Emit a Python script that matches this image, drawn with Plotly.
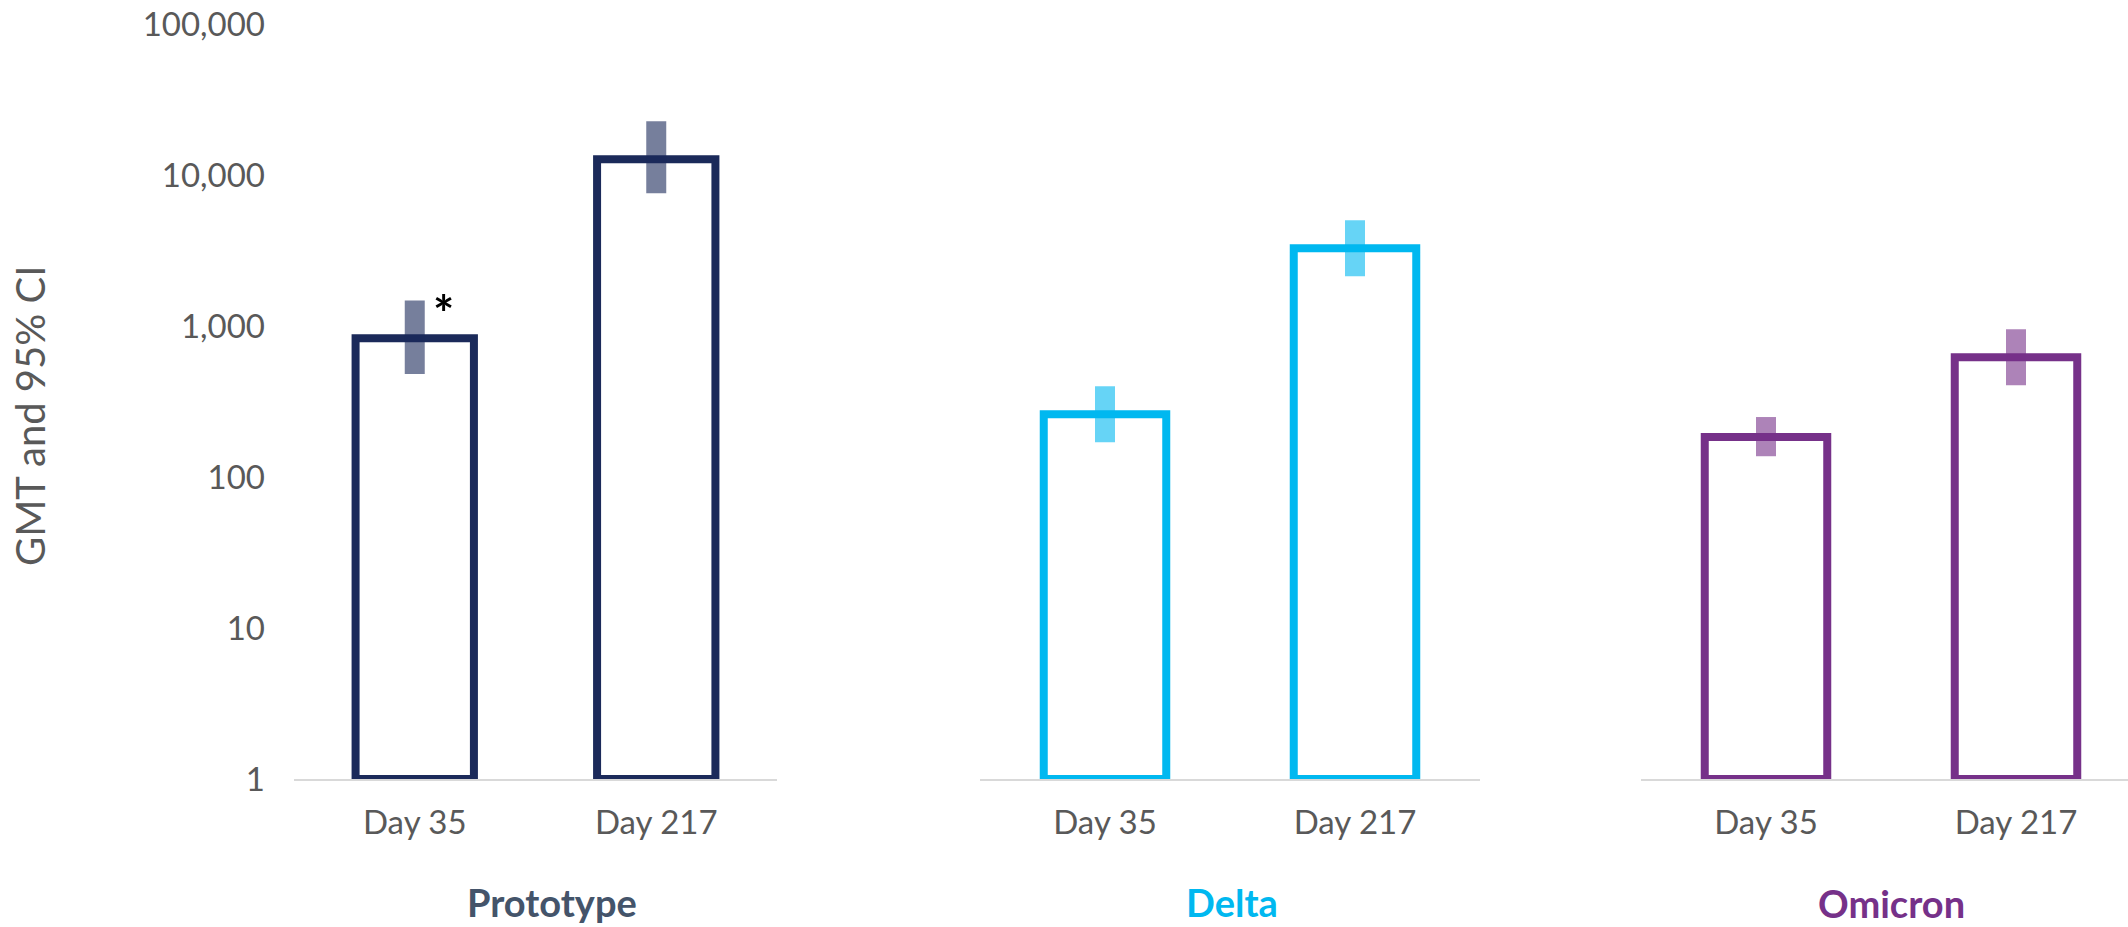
import math
import plotly.graph_objects as go

W, H = 2128, 927

# Time points (shared by every panel)
days = ["Day 35", "Day 217"]

# Geometric mean titres with 95% confidence limits
prototype_gmt = [836, 12850]
prototype_lo = [485, 7640]
prototype_hi = [1485, 22900]

delta_gmt = [262, 3300]
delta_lo = [171, 2155]
delta_hi = [402, 5060]

omicron_gmt = [185, 626]
omicron_lo = [138, 408]
omicron_hi = [251, 960]

# Y-axis ticks
y_tickvals = [1, 10, 100, 1000, 10000, 100000]
y_ticktext = ["1", "10", "100", "1,000", "10,000", "100,000"]

FONT = "Lato"
GREY = "#595959"
BASE = 1  # bars start at titre 1 (bottom of the log axis)

panels = [
    dict(name="Prototype", gmt=prototype_gmt, lo=prototype_lo, hi=prototype_hi,
         line="#1b2a5a", ci="rgba(27,42,90,0.6)", text="#44546a", xa="x",
         label=(552, 902)),
    dict(name="Delta", gmt=delta_gmt, lo=delta_lo, hi=delta_hi,
         line="#00b8f0", ci="rgba(0,184,240,0.6)", text="#00b8f0", xa="x2",
         label=(1232, 902)),
    dict(name="Omicron", gmt=omicron_gmt, lo=omicron_lo, hi=omicron_hi,
         line="#763189", ci="rgba(118,49,137,0.6)", text="#763189", xa="x3",
         label=(1891, 903)),
]

fig = go.Figure()
for p in panels:
    fig.add_trace(go.Bar(
        x=days,
        y=[g - BASE for g in p["gmt"]],
        base=BASE,
        width=0.49,
        xaxis=p["xa"],
        yaxis="y",
        name=p["name"],
        marker=dict(color="white", line=dict(color=p["line"], width=8)),
        error_y=dict(
            type="data",
            symmetric=False,
            array=[h - g for h, g in zip(p["hi"], p["gmt"])],
            arrayminus=[g - l for g, l in zip(p["gmt"], p["lo"])],
            color=p["ci"],
            thickness=20,
            width=0,
        ),
        showlegend=False,
        hoverinfo="skip",
    ))

axis_common = dict(
    type="category",
    showline=True,
    linecolor="#d9d9d9",
    linewidth=2,
    showgrid=False,
    zeroline=False,
    ticks="",
    ticklabelstandoff=13,
    tickfont=dict(family=FONT, size=33, color=GREY),
    anchor="y",
    automargin=False,
    fixedrange=True,
)

fig.update_layout(
    width=W,
    height=H,
    margin=dict(l=0, r=0, t=0, b=0, autoexpand=False),
    paper_bgcolor="white",
    plot_bgcolor="white",
    xaxis=dict(domain=[294 / W, 777 / W], range=[-0.5, 1.5], **axis_common),
    xaxis2=dict(domain=[980 / W, 1480 / W], range=[-0.5, 1.5], **axis_common),
    xaxis3=dict(domain=[1641 / W, 1.0], range=[-0.5, 1.5 - 13 / 250], **axis_common),
    yaxis=dict(
        type="log",
        domain=[1 - 779 / H, 1 - 24.8 / H],
        range=[0, 5],
        tickvals=y_tickvals,
        ticktext=y_ticktext,
        showgrid=False,
        zeroline=False,
        showline=False,
        ticks="",
        ticklabelstandoff=28,
        tickfont=dict(family=FONT, size=33, color=GREY),
        automargin=False,
        fixedrange=True,
    ),
)

annotations = [
    dict(
        text="GMT and 95% CI",
        textangle=-90,
        x=30 / W, y=1 - 416 / H,
        xref="paper", yref="paper",
        xanchor="center", yanchor="middle",
        showarrow=False,
        font=dict(family=FONT, size=40, color=GREY),
    ),
    dict(
        text="<b>*</b>",
        x="Day 35", y=math.log10(prototype_hi[0]),
        xref="x", yref="y",
        xanchor="center", yanchor="middle",
        xshift=29, yshift=-12,
        showarrow=False,
        font=dict(family=FONT, size=50, color="black"),
    ),
]

for p in panels:
    cx, cy = p["label"]
    annotations.append(dict(
        text=f"<b>{p['name']}</b>",
        x=cx / W, y=1 - cy / H,
        xref="paper", yref="paper",
        xanchor="center", yanchor="middle",
        showarrow=False,
        font=dict(family=FONT, size=38, color=p["text"]),
    ))

fig.update_layout(annotations=annotations)

fig.write_html("out.html")
